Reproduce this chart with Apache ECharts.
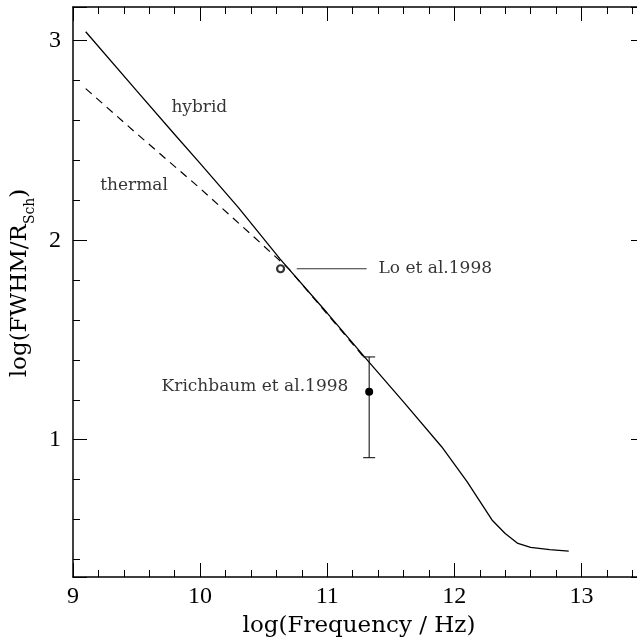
<!DOCTYPE html>
<html>
<head>
<meta charset="utf-8">
<script src="https://cdn.jsdelivr.net/npm/echarts@6/dist/echarts.min.js"></script>
<style>
    html, body { margin: 0; padding: 0; background: #fff; }
    #chart_content { width: 637px; height: 641px; }
</style>
</head>
<body>
<div id="chart_content"></div>
<script>
// log(nu/Hz) -> log(FWHM/R_Sch)
var hybrid_x = [9.1, 9.5, 9.8, 10.0, 10.3, 10.63, 11.0, 11.3, 11.6, 11.9, 12.1, 12.3, 12.4, 12.5, 12.6, 12.75, 12.9];
var hybrid_y = [3.045, 2.75, 2.53, 2.385, 2.165, 1.905, 1.635, 1.41, 1.19, 0.965, 0.79, 0.595, 0.53, 0.48, 0.46, 0.449, 0.442];
var thermal_x = [9.1, 9.5, 10.0, 10.4, 10.7, 11.0, 11.3];
var thermal_y = [2.76, 2.535, 2.26, 2.03, 1.855, 1.63, 1.405];

// Lo et al. 1998 (open circle) and pointer line to its label
var lo_point = [10.633, 1.857];
var lo_pointer_x = [10.76, 11.31];
// Krichbaum et al. 1998: [x, y, low, high]
var krich_point = [11.33, 1.24, 0.91, 1.415];

var note_names = ["hybrid", "thermal", "Lo et al.1998"];
var note_x = [9.77, 9.21, 11.40];
var note_y = [2.663, 2.272, 1.857];
var krich_label = "Krichbaum et al.1998";
var krich_label_at = [11.17, 1.265];

var x_ticks = [9, 10, 11, 12, 13];
var y_ticks = [1, 2, 3];

function pairs(xs, ys){
    var out = [];
    for(var i = 0; i < xs.length; i++){
        out.push([xs[i], ys[i]]);
    }
    return out;
}

var chart = echarts.init(document.getElementById("chart_content"));
var tick_font = { fontFamily: "Liberation Serif", fontSize: 24, color: "#000" };
var note_font = { fontFamily: "DejaVu Serif", fontSize: 17, color: "#000" };
var frame_line = { show: true, lineStyle: { color: "#000", width: 1.5 } };

function xAxisOf(pos, withLabels){
    return {
        type: "value",
        position: pos,
        min: x_ticks[0],
        max: 13.5,
        interval: 1,
        axisLine: frame_line,
        axisTick: { show: true, inside: true, length: 14, lineStyle: { color: "#000", width: 1 } },
        minorTick: { show: true, splitNumber: 5, length: 7, lineStyle: { color: "#000", width: 1 } },
        splitLine: { show: false },
        axisLabel: {
            show: withLabels,
            margin: 8,
            showMaxLabel: false,
            formatter: function(v){ return x_ticks.indexOf(v) >= 0 ? String(v) : ""; },
            ...tick_font
        },
        name: withLabels ? "log(Frequency / Hz)" : "",
        nameLocation: "middle",
        nameGap: 38,
        nameTextStyle: { fontFamily: "DejaVu Serif", fontSize: 23, color: "#000" }
    };
}

function yAxisOf(pos, withLabels){
    return {
        type: "value",
        position: pos,
        min: 0.312,
        max: 3.169,
        minInterval: 1,
        maxInterval: 1,
        splitNumber: 3,
        axisLine: frame_line,
        axisTick: { show: true, inside: true, length: 14, lineStyle: { color: "#000", width: 1 } },
        minorTick: { show: true, splitNumber: 5, length: 7, lineStyle: { color: "#000", width: 1 } },
        splitLine: { show: false },
        axisLabel: {
            show: withLabels,
            margin: 12,
            showMinLabel: false,
            showMaxLabel: false,
            formatter: function(v){ return y_ticks.indexOf(v) >= 0 ? String(v) : ""; },
            ...tick_font
        },
        name: withLabels ? "{m|log(FWHM/R}{s|Sch}{m|)}" : "",
        nameLocation: "middle",
        nameRotate: 90,
        nameGap: 36,
        nameTextStyle: {
            padding: [0, 0, 0, 18],
            rich: {
                m: { fontFamily: "DejaVu Serif", fontSize: 23, lineHeight: 23, verticalAlign: "top", color: "#000" },
                s: { fontFamily: "DejaVu Serif", fontSize: 14, lineHeight: 28, verticalAlign: "bottom", color: "#000" }
            }
        }
    };
}

var notes = [];
for(var i = 0; i < note_names.length; i++){
    notes.push({ name: note_names[i], value: [note_x[i], note_y[i]] });
}

var option = {
    animation: false,
    backgroundColor: "#fff",
    grid: { left: 73, top: 7, right: -8, bottom: 64, containLabel: false, outerBoundsMode: "none" },
    xAxis: [xAxisOf("bottom", true), xAxisOf("top", false)],
    yAxis: [yAxisOf("left", true), yAxisOf("right", false)],
    series: [
        {
            name: "hybrid",
            type: "line",
            data: pairs(hybrid_x, hybrid_y),
            showSymbol: false,
            lineStyle: { color: "#000", width: 1.3 }
        },
        {
            name: "thermal",
            type: "line",
            data: pairs(thermal_x, thermal_y),
            showSymbol: false,
            lineStyle: { color: "#000", width: 1.2, type: [8, 6] }
        },
        {
            name: "Lo pointer",
            type: "line",
            data: [[lo_pointer_x[0], lo_point[1]], [lo_pointer_x[1], lo_point[1]]],
            showSymbol: false,
            lineStyle: { color: "#333", width: 1 }
        },
        {
            name: "Lo et al.1998",
            type: "scatter",
            data: [lo_point],
            symbol: "circle",
            symbolSize: 7,
            z: 5,
            itemStyle: { color: "#fff", borderColor: "#000", borderWidth: 2.2 }
        },
        {
            name: "Krichbaum et al.1998",
            type: "custom",
            data: [krich_point],
            renderItem: function(params, api){
                var top = api.coord([api.value(0), api.value(3)]);
                var bot = api.coord([api.value(0), api.value(2)]);
                var mid = api.coord([api.value(0), api.value(1)]);
                var style = { stroke: "#000", lineWidth: 1 };
                return {
                    type: "group",
                    children: [
                        { type: "line", shape: { x1: top[0], y1: top[1], x2: bot[0], y2: bot[1] }, style: style },
                        { type: "line", shape: { x1: top[0] - 6, y1: top[1], x2: top[0] + 6, y2: top[1] }, style: style },
                        { type: "line", shape: { x1: bot[0] - 6, y1: bot[1], x2: bot[0] + 6, y2: bot[1] }, style: style },
                        { type: "circle", shape: { cx: mid[0], cy: mid[1], r: 4 }, style: { fill: "#000" } }
                    ]
                };
            }
        },
        {
            name: "notes",
            type: "scatter",
            data: notes,
            symbolSize: 1,
            itemStyle: { color: "rgba(0,0,0,0)" },
            label: { show: true, position: "right", distance: 0, formatter: "{b}", ...note_font }
        },
        {
            name: "krich note",
            type: "scatter",
            data: [{ name: krich_label, value: krich_label_at }],
            symbolSize: 1,
            itemStyle: { color: "rgba(0,0,0,0)" },
            label: { show: true, position: "left", distance: 0, formatter: "{b}", ...note_font }
        }
    ]
};
chart.setOption(option, true);
</script>
</body>
</html>
